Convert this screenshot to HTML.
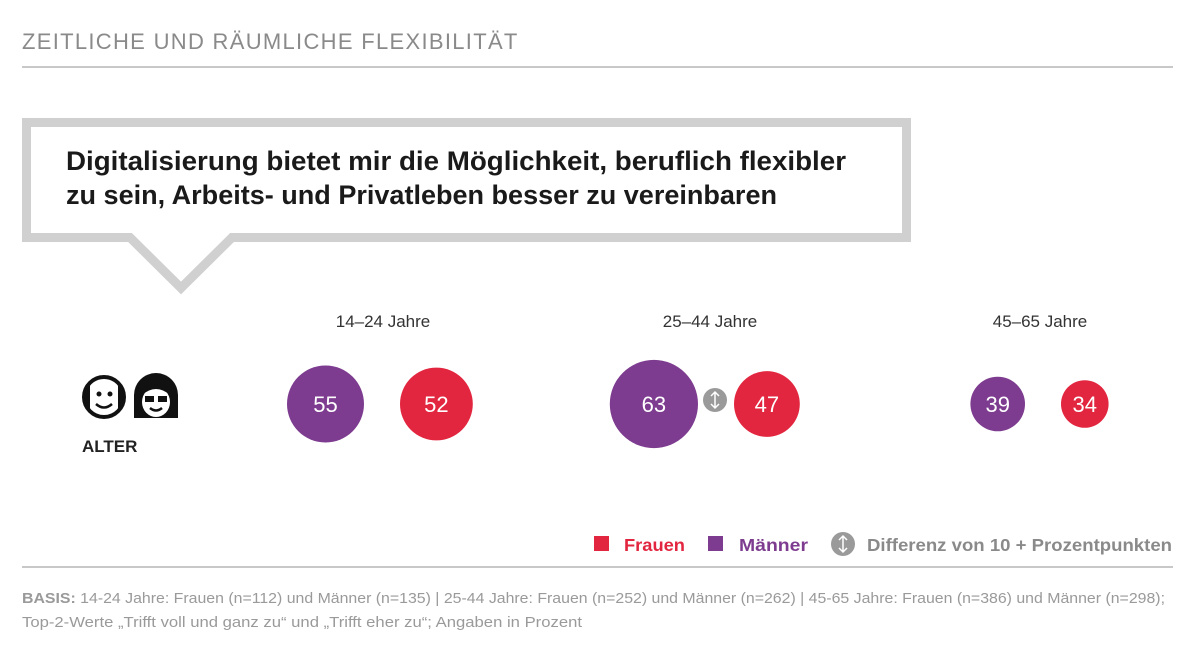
<!DOCTYPE html>
<html><head><meta charset="utf-8"><style>
body{margin:0;background:#fff;}
svg{display:block;font-family:"Liberation Sans",sans-serif;}
</style></head><body>
<svg width="1200" height="658" viewBox="0 0 1200 658">
<text x="22" y="49" font-size="22" fill="#8a8a8a" letter-spacing="1.3">ZEITLICHE UND RÄUMLICHE FLEXIBILITÄT</text>
<rect x="22" y="66" width="1151" height="2" fill="#c8c8c8"/>
<g>
<path d="M26.5,122.5 H906.5 V237.5 H232 L181,288 L130,237.5 H26.5 Z" fill="#fff" stroke="#d0d0d0" stroke-width="9"/>
<text x="66" y="170" font-size="26.5" font-weight="bold" fill="#1a1a1a" textLength="780" lengthAdjust="spacingAndGlyphs">Digitalisierung bietet mir die Möglichkeit, beruflich flexibler</text>
<text x="66" y="204" font-size="26.5" font-weight="bold" fill="#1a1a1a" textLength="711" lengthAdjust="spacingAndGlyphs">zu sein, Arbeits- und Privatleben besser zu vereinbaren</text>
</g>
<g>
<circle cx="104" cy="397" r="20" fill="#fff" stroke="#111" stroke-width="4"/>
<path d="M84,397 a20,20 0 0 1 6,-14 v28 a20,20 0 0 1 -6,-14Z M124,397 a20,20 0 0 0 -6,-14 v28 a20,20 0 0 0 6,-14Z" fill="#111"/>
<circle cx="99" cy="394" r="2.5" fill="#111"/><circle cx="110" cy="394" r="2.5" fill="#111"/>
<path d="M96,404 q8,7 16,0" fill="none" stroke="#111" stroke-width="2.5"/>
<path d="M134,418 V395 a22,22 0 0 1 44,0 V418Z" fill="#111"/>
<ellipse cx="156" cy="402" rx="14" ry="15" fill="#fff"/>
<path d="M142,395 q14,-12 28,0 v-6 q-14,-10 -28,0Z" fill="#111"/>
<rect x="145" y="396" width="9" height="6" fill="#111"/><rect x="158" y="396" width="9" height="6" fill="#111"/>
<path d="M150,408 q6,5 12,0" fill="none" stroke="#111" stroke-width="2.5"/>
<text x="82" y="452" font-size="17" font-weight="bold" fill="#222">ALTER</text>
</g>
<g id="bubbles"></g>
<g>
<rect x="594" y="536" width="15" height="15" fill="#e3263f"/>
<text x="624" y="551" font-size="17.5" font-weight="bold" fill="#e3263f" textLength="61" lengthAdjust="spacingAndGlyphs">Frauen</text>
<rect x="708" y="536" width="15" height="15" fill="#7d3c8f"/>
<text x="739" y="551" font-size="17.5" font-weight="bold" fill="#7d3c8f" textLength="69" lengthAdjust="spacingAndGlyphs">Männer</text>
<circle cx="843" cy="544" r="12" fill="#9a9a9a"/>
<path d="M843,537 v14 M839,540 l4,-4 4,4 M839,548 l4,4 4,-4" fill="none" stroke="#fff" stroke-width="1.5"/>
<text x="867" y="551" font-size="17.5" font-weight="bold" fill="#8a8a8a" textLength="305" lengthAdjust="spacingAndGlyphs">Differenz von 10 + Prozentpunkten</text>
</g>
<rect x="22" y="566" width="1151" height="2" fill="#c8c8c8"/>
<text x="22" y="603" font-size="15" fill="#9a9a9a" textLength="1143" lengthAdjust="spacingAndGlyphs"><tspan font-weight="bold">BASIS:</tspan> 14-24 Jahre: Frauen (n=112) und Männer (n=135) | 25-44 Jahre: Frauen (n=252) und Männer (n=262) | 45-65 Jahre: Frauen (n=386) und Männer (n=298);</text>
<text x="22" y="627" font-size="15" fill="#9a9a9a" textLength="560" lengthAdjust="spacingAndGlyphs">Top-2-Werte „Trifft voll und ganz zu“ und „Trifft eher zu“; Angaben in Prozent</text>
</svg>
<script>
const groups = ["14–24 Jahre","25–44 Jahre","45–65 Jahre"];
const maenner = [55,63,39];
const frauen = [52,47,34];
const groupCenters = [382,716,1043];
const labelCenters = [383,710,1040];
const NS="http://www.w3.org/2000/svg";
const g=document.getElementById('bubbles');
function r(v){return v*0.7;}
function mk(tag,attrs){const e=document.createElementNS(NS,tag);for(const k in attrs)e.setAttribute(k,attrs[k]);g.appendChild(e);return e;}
groups.forEach((name,i)=>{
  const c=groupCenters[i];
  const lab=mk('text',{x:labelCenters[i],y:327,'font-size':17,fill:'#333','text-anchor':'middle'});
  lab.textContent=name;
  
  
  const m=maenner[i], f=frauen[i];
  const big=Math.abs(m-f)>=10;
  const gap=36;
  const mx=c-gap/2-r(m), fx=c+gap/2+r(f);
  const mc=mk('circle',{cx:mx,cy:404,r:r(m),fill:'#7d3c8f'});
  
  
  const mt=mk('text',{x:mx,y:412,'font-size':22,fill:'#fff','text-anchor':'middle'});mt.textContent=m;
  
  
  const fc=mk('circle',{cx:fx,cy:404,r:r(f),fill:'#e3263f'});
  
  
  const ft=mk('text',{x:fx,y:412,'font-size':22,fill:'#fff','text-anchor':'middle'});ft.textContent=f;
  
  
  if(big){
    const dc=mk('circle',{cx:c-1,cy:400,r:12,fill:'#9a9a9a'});
    
    
    mk('path',{d:`M${c-1},393 v14 M${c-5},396 l4,-4 4,4 M${c-5},404 l4,4 4,-4`,fill:'none',stroke:'#fff','stroke-width':1.5});
  }
});
</script>
</body></html>
